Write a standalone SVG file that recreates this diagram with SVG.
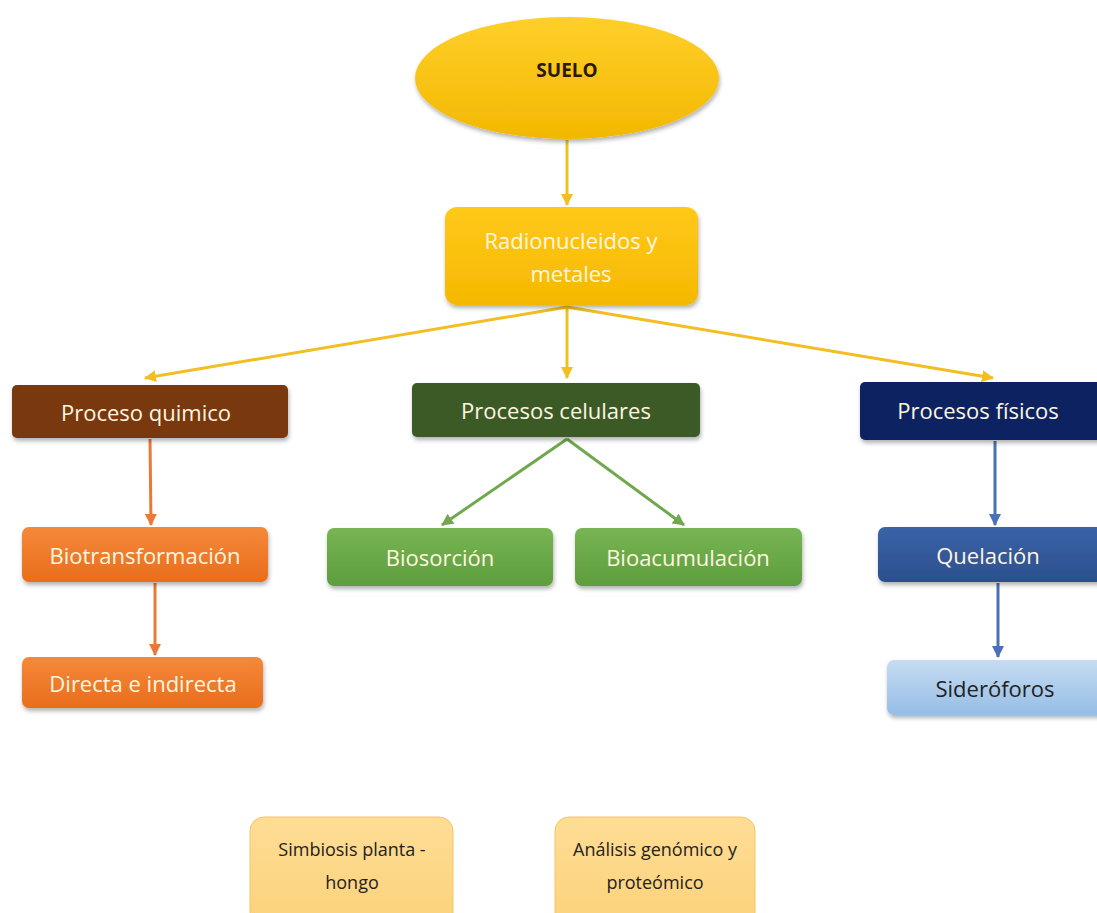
<svg xmlns="http://www.w3.org/2000/svg" width="1097" height="913" viewBox="0 0 1097 913">
<defs>
<filter id="sh" x="-10%" y="-10%" width="130%" height="140%">
<feDropShadow dx="1" dy="3" stdDeviation="2" flood-color="#000" flood-opacity="0.3"/>
</filter>
<linearGradient id="gY" x1="0" y1="0" x2="0" y2="1"><stop offset="0" stop-color="#ffc91a"/><stop offset="1" stop-color="#f5b800"/></linearGradient>
<linearGradient id="gEl" x1="0" y1="0" x2="0" y2="1"><stop offset="0" stop-color="#ffcf2a"/><stop offset="1" stop-color="#f2b800"/></linearGradient>
<linearGradient id="gOr" x1="0" y1="0" x2="0" y2="1"><stop offset="0" stop-color="#f5893a"/><stop offset="1" stop-color="#e96d1c"/></linearGradient>
<linearGradient id="gGr" x1="0" y1="0" x2="0" y2="1"><stop offset="0" stop-color="#77b554"/><stop offset="1" stop-color="#5e9d3c"/></linearGradient>
<linearGradient id="gBl" x1="0" y1="0" x2="0" y2="1"><stop offset="0" stop-color="#3a63a8"/><stop offset="1" stop-color="#2c4f8e"/></linearGradient>
<linearGradient id="gLb" x1="0" y1="0" x2="0" y2="1"><stop offset="0" stop-color="#c6dcf2"/><stop offset="1" stop-color="#95bde6"/></linearGradient>
<linearGradient id="gPa" x1="0" y1="0" x2="0" y2="1"><stop offset="0" stop-color="#fedd96"/><stop offset="1" stop-color="#fcd27a"/></linearGradient>
<marker id="mY" markerWidth="12" markerHeight="12" refX="11" refY="6" orient="auto" markerUnits="userSpaceOnUse"><path d="M0,0 L12,6 L0,12 z" fill="#f2be22"/></marker>
<marker id="mO" markerWidth="12" markerHeight="12" refX="11" refY="6" orient="auto" markerUnits="userSpaceOnUse"><path d="M0,0 L12,6 L0,12 z" fill="#e8793a"/></marker>
<marker id="mG" markerWidth="12" markerHeight="12" refX="11" refY="6" orient="auto" markerUnits="userSpaceOnUse"><path d="M0,0 L12,6 L0,12 z" fill="#70a84e"/></marker>
<marker id="mB" markerWidth="12" markerHeight="12" refX="11" refY="6" orient="auto" markerUnits="userSpaceOnUse"><path d="M0,0 L12,6 L0,12 z" fill="#4a70b8"/></marker>
</defs>
<style>
text{font-family:"Open Sans","Liberation Sans",Arial,sans-serif;font-size:22px;text-anchor:middle;dominant-baseline:central}
.w{fill:#fff6e0}
.d{fill:#222}
.s{font-size:18px}
.box{filter:url(#sh)}
.cy{stroke:#f2be22;stroke-width:3;fill:none;marker-end:url(#mY)}
.co{stroke:#e8793a;stroke-width:3;fill:none;marker-end:url(#mO)}
.cg{stroke:#70a84e;stroke-width:3;fill:none;marker-end:url(#mG)}
.cb{stroke:#4a70b8;stroke-width:3;fill:none;marker-end:url(#mB)}
</style>
<rect width="1097" height="913" fill="#fff"/>
<g id="connectors">
<line class="cy" x1="567" y1="140" x2="567" y2="205"/>
<line class="cy" x1="567" y1="307" x2="145" y2="378"/>
<line class="cy" x1="567" y1="307" x2="567" y2="378"/>
<line class="cy" x1="567" y1="307" x2="993" y2="378"/>
<line class="co" x1="150" y1="439" x2="151" y2="525"/>
<line class="co" x1="155" y1="583" x2="155" y2="655"/>
<line class="cg" x1="567" y1="439" x2="442" y2="525"/>
<line class="cg" x1="567" y1="439" x2="684" y2="525"/>
<line class="cb" x1="995" y1="441" x2="995" y2="525"/>
<line class="cb" x1="998" y1="583" x2="998" y2="657"/>
</g>
<g id="suelo"><ellipse class="box" cx="567" cy="78" rx="152" ry="61" fill="url(#gEl)"/><text x="567" y="70" class="d" style="font-weight:bold;font-size:19px;fill:#2a1a05">SUELO</text></g>
<g id="radionucleidos"><rect class="box" x="445" y="207" width="253" height="98" rx="12" fill="url(#gY)"/><text x="571" y="240" class="w">Radionucleidos y</text><text x="571" y="273" class="w">metales</text></g>
<g id="quimico"><rect class="box" x="12" y="385" width="276" height="53" rx="5" fill="#793710"/><text x="146" y="412" class="w">Proceso quimico</text></g>
<g id="biotransformacion"><rect class="box" x="22" y="527" width="246" height="55" rx="7" fill="url(#gOr)"/><text x="145" y="555" class="w">Biotransformación</text></g>
<g id="directa"><rect class="box" x="22" y="657" width="241" height="51" rx="7" fill="url(#gOr)"/><text x="143" y="683" class="w">Directa e indirecta</text></g>
<g id="celulares"><rect class="box" x="412" y="383" width="288" height="54" rx="5" fill="#3b5a25"/><text x="556" y="410" class="w">Procesos celulares</text></g>
<g id="biosorcion"><rect class="box" x="327" y="528" width="226" height="58" rx="7" fill="url(#gGr)"/><text x="440" y="557" class="w">Biosorción</text></g>
<g id="bioacumulacion"><rect class="box" x="575" y="528" width="227" height="58" rx="7" fill="url(#gGr)"/><text x="688" y="557" class="w">Bioacumulación</text></g>
<g id="fisicos"><rect class="box" x="860" y="382" width="250" height="58" rx="5" fill="#0b2060"/><text x="978" y="410" class="w">Procesos físicos</text></g>
<g id="quelacion"><rect class="box" x="878" y="527" width="232" height="55" rx="7" fill="url(#gBl)"/><text x="988" y="555" class="w">Quelación</text></g>
<g id="sideroforos"><rect class="box" x="887" y="660" width="220" height="55" rx="7" fill="url(#gLb)"/><text x="995" y="688" class="d">Sideróforos</text></g>
<g id="simbiosis"><rect x="250" y="817" width="203" height="110" rx="14" fill="url(#gPa)" stroke="#f3c660" stroke-width="1"/><text x="352" y="849" class="d s">Simbiosis planta -</text><text x="352" y="882" class="d s">hongo</text></g>
<g id="analisis"><rect x="555" y="817" width="200" height="110" rx="14" fill="url(#gPa)" stroke="#f3c660" stroke-width="1"/><text x="655" y="849" class="d s">Análisis genómico y</text><text x="655" y="882" class="d s">proteómico</text></g>
</svg>
